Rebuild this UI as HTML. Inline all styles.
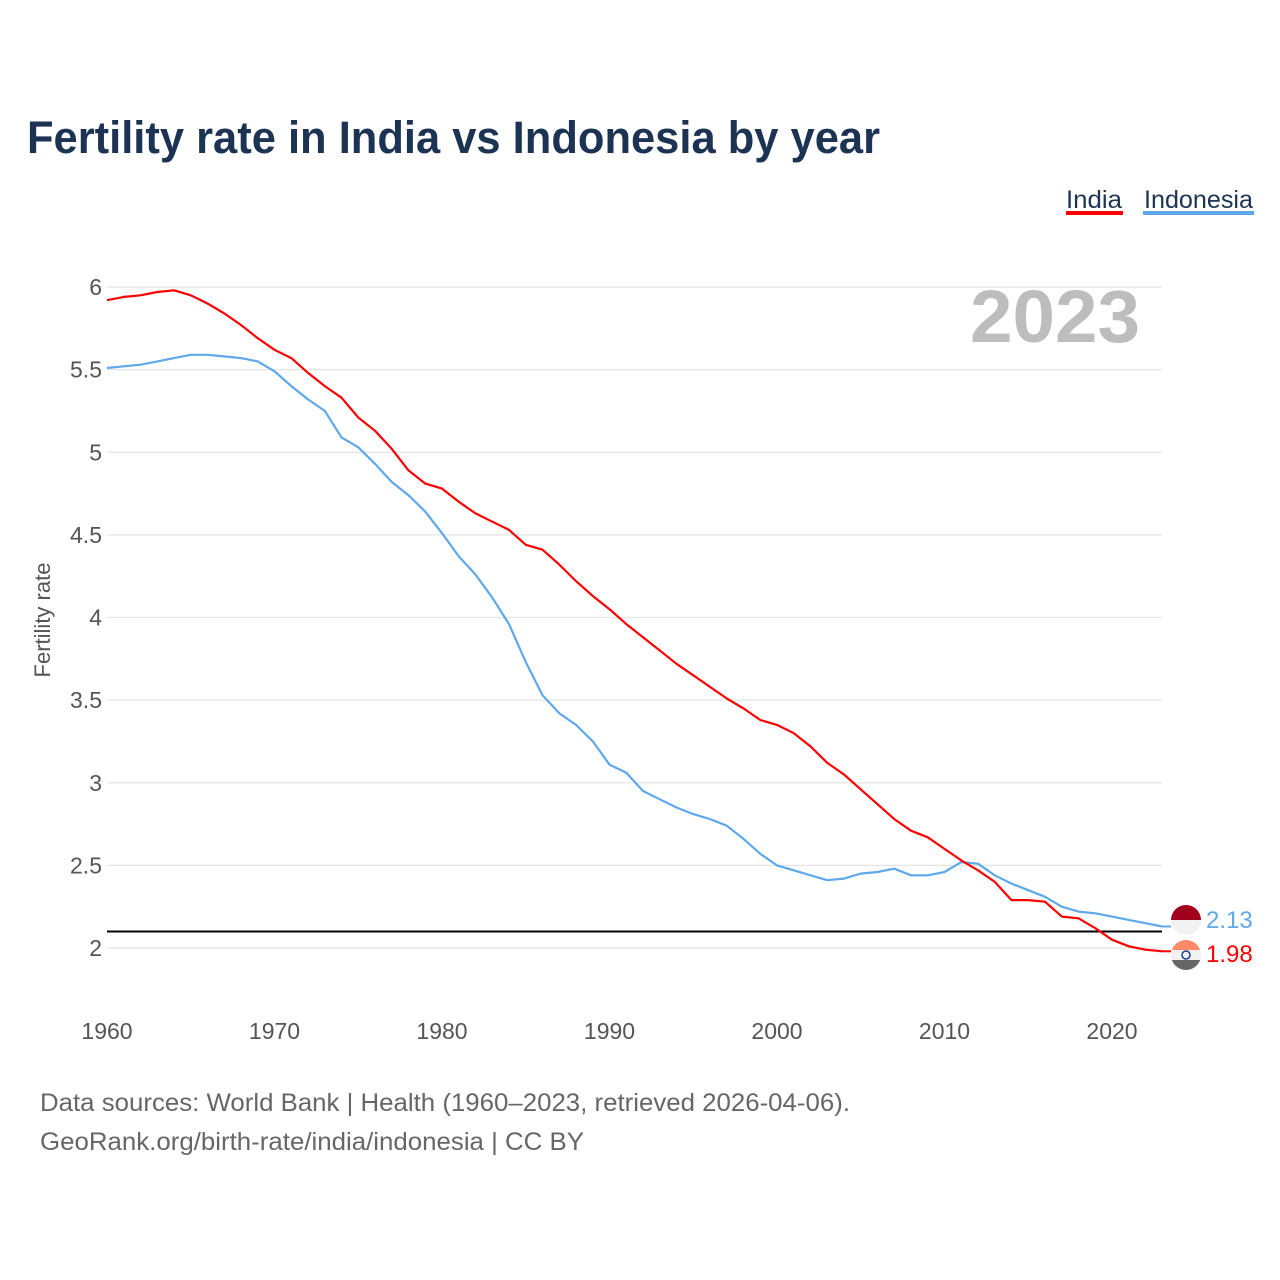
<!DOCTYPE html>
<html><head><meta charset="utf-8">
<style>
body{margin:0;background:#fff;}
svg{display:block;font-family:"Liberation Sans",sans-serif;}
</style></head>
<body>
<svg id="chart" width="1280" height="1280" viewBox="0 0 1280 1280">
<rect width="1280" height="1280" fill="#fff"/>
<text x="27" y="153" font-size="45" font-weight="bold" fill="#1c3354" textLength="853" lengthAdjust="spacingAndGlyphs">Fertility rate in India vs Indonesia by year</text>
<g>
<g>
<text x="1066" y="208" font-size="25" fill="#1c3354" textLength="56" lengthAdjust="spacingAndGlyphs">India</text>
<rect x="1066" y="211" width="57" height="4" fill="#ff0000"/>
</g>
<g>
<text x="1144" y="208" font-size="25" fill="#1c3354" textLength="109" lengthAdjust="spacingAndGlyphs">Indonesia</text>
<rect x="1143" y="211" width="111" height="4" fill="#5fa8ea"/>
</g>
</g>
<text x="970" y="342" font-size="74" font-weight="bold" fill="#bdbdbd" textLength="170" lengthAdjust="spacingAndGlyphs">2023</text>
<text transform="translate(50,620) rotate(-90)" font-size="22" fill="#555" text-anchor="middle">Fertility rate</text>
<g id="grid"></g>
<g id="series"></g>
<text x="40" y="1111" font-size="25" fill="#666" textLength="810" lengthAdjust="spacingAndGlyphs">Data sources: World Bank | Health (1960–2023, retrieved 2026-04-06).</text>
<text x="40" y="1150" font-size="25" fill="#666" textLength="544" lengthAdjust="spacingAndGlyphs">GeoRank.org/birth-rate/india/indonesia | CC BY</text>
</svg>
<script>
const years = [];
for (let y = 1960; y <= 2023; y++) years.push(y);
const india = [5.92,5.94,5.95,5.97,5.98,5.95,5.90,5.84,5.77,5.69,5.62,5.57,5.48,5.40,5.33,5.21,5.13,5.02,4.89,4.81,4.78,4.70,4.63,4.58,4.53,4.44,4.41,4.32,4.22,4.13,4.05,3.96,3.88,3.80,3.72,3.65,3.58,3.51,3.45,3.38,3.35,3.30,3.22,3.12,3.05,2.96,2.87,2.78,2.71,2.67,2.60,2.53,2.47,2.40,2.29,2.29,2.28,2.19,2.18,2.12,2.05,2.01,1.99,1.98];
const indonesia = [5.51,5.52,5.53,5.55,5.57,5.59,5.59,5.58,5.57,5.55,5.49,5.40,5.32,5.25,5.09,5.03,4.93,4.82,4.74,4.64,4.51,4.37,4.26,4.12,3.96,3.73,3.53,3.42,3.35,3.25,3.11,3.06,2.95,2.90,2.85,2.81,2.78,2.74,2.66,2.57,2.50,2.47,2.44,2.41,2.42,2.45,2.46,2.48,2.44,2.44,2.46,2.52,2.51,2.44,2.39,2.35,2.31,2.25,2.22,2.21,2.19,2.17,2.15,2.13];
const yTicks = [2,2.5,3,3.5,4,4.5,5,5.5,6];
const yTickLabels = ["2","2.5","3","3.5","4","4.5","5","5.5","6"];
const xTicks = [1960,1970,1980,1990,2000,2010,2020];
const replacementRate = 2.1;

const NS = "http://www.w3.org/2000/svg";
const X0 = 107, X1 = 1162;
function xs(yr){ return X0 + (yr-1960)*(1112-107)/60; }
function ys(v){ return 948 - (v-2)*(948-287)/4; }
function mk(tag, attrs, parent){ const e=document.createElementNS(NS,tag); for(const k in attrs) e.setAttribute(k,attrs[k]); parent.appendChild(e); return e; }
const grid = document.getElementById('grid');
const series = document.getElementById('series');
yTicks.forEach((t,i)=>{
  const l = mk('line',{x1:X0,x2:X1,y1:ys(t),y2:ys(t),stroke:'#e4e4e4','stroke-width':1.2},grid);
  
  
  const tx = mk('text',{x:102,y:ys(t)+8,'font-size':23,fill:'#555','text-anchor':'end'},grid);
  tx.textContent = yTickLabels[i];
  
  
});
xTicks.forEach(t=>{
  const tx = mk('text',{x:xs(t),y:1039,'font-size':23,fill:'#555','text-anchor':'middle'},grid);
  tx.textContent = t;
  
  
});
const ref = mk('line',{x1:X0,x2:X1,y1:ys(replacementRate),y2:ys(replacementRate),stroke:'#000','stroke-width':2},grid);



function drawLine(vals,color,name){
  const d = vals.map((v,i)=>(i?'L':'M')+xs(years[i]).toFixed(1)+','+ys(v).toFixed(1)).join(' ');
  const p = mk('path',{d:d,fill:'none',stroke:color,'stroke-width':2.2,'stroke-linejoin':'round'},series);
  
  
}
drawLine(indonesia,'#5fa8ea','indonesia-line');
drawLine(india,'#ff0000','india-line');

const lastInd = indonesia[indonesia.length-1], lastIn = india[india.length-1];
const g1 = mk('g',{},series);


const cp1 = mk('clipPath',{id:'c1'},g1); mk('circle',{cx:1186,cy:920,r:15},cp1);
mk('rect',{x:1171,y:905,width:30,height:15,fill:'#a0001e','clip-path':'url(#c1)'},g1);
mk('rect',{x:1171,y:920,width:30,height:15,fill:'#f2f2f2','clip-path':'url(#c1)'},g1);
const g2 = mk('g',{},series);


const cp2 = mk('clipPath',{id:'c2'},g2); mk('circle',{cx:1186,cy:955,r:15},cp2);
mk('rect',{x:1171,y:940,width:30,height:10,fill:'#ff8a6a','clip-path':'url(#c2)'},g2);
mk('rect',{x:1171,y:950,width:30,height:10,fill:'#f2f2f2','clip-path':'url(#c2)'},g2);
mk('rect',{x:1171,y:960,width:30,height:10,fill:'#666','clip-path':'url(#c2)'},g2);
mk('circle',{cx:1186,cy:955,r:4,fill:'none',stroke:'#1c3f8a','stroke-width':1.5},g2);
mk('path',{d:'M1162,'+ys(lastInd).toFixed(1)+' L1171,'+ys(lastInd).toFixed(1),stroke:'#5fa8ea','stroke-width':2},series);
mk('path',{d:'M1162,'+ys(lastIn).toFixed(1)+' L1171,'+ys(lastIn).toFixed(1),stroke:'#ff0000','stroke-width':2},series);
const l1 = mk('text',{x:1206,y:928,'font-size':24,fill:'#5fa8ea'},series);
l1.textContent = lastInd.toFixed(2);


const l2 = mk('text',{x:1206,y:962,'font-size':24,fill:'#ff0000'},series);
l2.textContent = lastIn.toFixed(2);


</script>
</body></html>
